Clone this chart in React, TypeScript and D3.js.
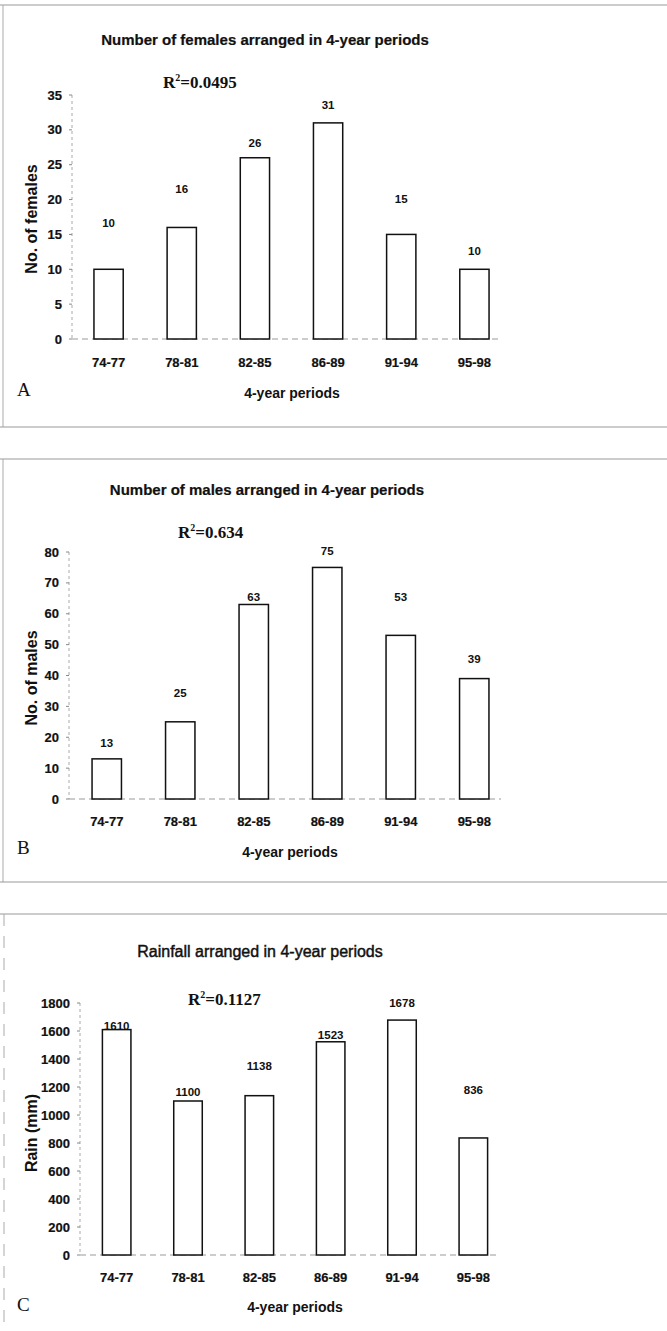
import React from 'react';
import * as d3 from 'd3';

const periods = ['74-77', '78-81', '82-85', '86-89', '91-94', '95-98'];
const females = [10, 16, 26, 31, 15, 10];
const males = [13, 25, 63, 75, 53, 39];
const rainfall = [1610, 1100, 1138, 1523, 1678, 836];
// where the value labels sit, in data units (placed by hand in the original)
const femaleLabelAt = [16, 21, 27.5, 33, 19.5, 12];
const maleLabelAt = [17, 33, 64, 79, 64, 44];
const rainLabelAt = [1610, 1135, 1320, 1545, 1770, 1150];

const SANS = '"Liberation Sans", Arial, sans-serif';
const SERIF = '"Liberation Serif", "Times New Roman", serif';

interface PanelProps {
    values: number[];
    labelAt: number[];
    title: string;
    titleBold: boolean;
    titleX: number;
    titleY: number;
    r2: string;
    r2X: number;
    r2Y: number;
    yTitle: string;
    yTitleY: number;
    yMax: number;
    yStep: number;
    axisX: number;
    yTop: number;
    yZero: number;
    xRange: [number, number];
    tickY: number;
    xTitleX: number;
    xTitleY: number;
    letter: string;
    letterY: number;
}

const Panel: React.FC<PanelProps> = p => {
    const x = d3.scaleBand<string>().domain(periods).range(p.xRange).paddingInner(0.6).paddingOuter(0.3);
    const y = d3.scaleLinear().domain([0, p.yMax]).range([p.yZero, p.yTop]);
    const ticks = d3.range(0, p.yMax + p.yStep / 2, p.yStep);

    return (
        <g>
            <text x={p.titleX} y={p.titleY} textAnchor="middle" fontFamily={SANS}
                fontSize={p.titleBold ? 15 : 16} fontWeight={p.titleBold ? 'bold' : 'normal'}
                stroke="#111" strokeWidth={p.titleBold ? 0.2 : 0.45} fill="#111">
                {p.title}
            </text>
            <text x={p.r2X} y={p.r2Y} fontFamily={SERIF} fontSize={17} fontWeight="bold" fill="#111">
                R<tspan fontSize={10} dy={-7}>2</tspan><tspan dy={7}>{p.r2}</tspan>
            </text>

            {/* y axis */}
            <line x1={p.axisX} x2={p.axisX} y1={p.yTop} y2={p.yZero} stroke="#aaa" strokeDasharray="3,3" />
            {ticks.map(t => (
                <g key={t}>
                    <line x1={p.axisX - 3} x2={p.axisX} y1={y(t)} y2={y(t)} stroke="#888" />
                    <text x={p.axisX - 10} y={y(t) + 4.5} textAnchor="end" fontFamily={SANS}
                        fontSize={13} fontWeight="bold" fill="#111" stroke="#111" strokeWidth={0.2}>{t}</text>
                </g>
            ))}
            <line x1={p.axisX} x2={p.xRange[1] - 10} y1={p.yZero} y2={p.yZero} stroke="#999" strokeDasharray="6,4" />

            {periods.map((d, i) => (
                <g key={d}>
                    <rect x={x(d)} y={y(p.values[i])} width={x.bandwidth()} height={p.yZero - y(p.values[i])}
                        fill="#fff" stroke="#111" strokeWidth={1.5} />
                    <text x={(x(d) ?? 0) + x.bandwidth() / 2} y={y(p.labelAt[i])} textAnchor="middle"
                        fontFamily={SANS} fontSize={11.5} fontWeight="bold" fill="#111">{p.values[i]}</text>
                    <text x={(x(d) ?? 0) + x.bandwidth() / 2} y={p.tickY} textAnchor="middle"
                        fontFamily={SANS} fontSize={13} fontWeight="bold" fill="#111" stroke="#111" strokeWidth={0.2}>{d}</text>
                </g>
            ))}

            <text transform={`translate(37,${p.yTitleY}) rotate(-90)`} textAnchor="middle"
                fontFamily={SANS} fontSize={16} fontWeight="bold" fill="#111">{p.yTitle}</text>
            <text x={p.xTitleX} y={p.xTitleY} textAnchor="middle" fontFamily={SANS}
                fontSize={14} fontWeight="bold" fill="#111">4-year periods</text>
            <text x={17} y={p.letterY} fontFamily={SERIF} fontSize={19} fill="#111">{p.letter}</text>
        </g>
    );
};

const App: React.FC = () => {
    return (
        <svg width={667} height={1331} style={{ position: 'absolute', left: 0, top: 0, background: '#fff' }}>
            {/* frames */}
            <line x1={0} x2={667} y1={5} y2={5} stroke="#999" />
            <line x1={3} x2={3} y1={5} y2={427} stroke="#aaa" />
            <line x1={0} x2={667} y1={427} y2={427} stroke="#999" />
            <line x1={0} x2={667} y1={459} y2={459} stroke="#999" />
            <line x1={3} x2={3} y1={459} y2={882} stroke="#aaa" />
            <line x1={0} x2={667} y1={882} y2={882} stroke="#999" />
            <line x1={0} x2={667} y1={914} y2={914} stroke="#999" />
            <line x1={4} x2={4} y1={914} y2={1331} stroke="#aaa" strokeDasharray="12,10" />

            <Panel values={females} labelAt={femaleLabelAt}
                title="Number of females arranged in 4-year periods" titleBold titleX={265} titleY={45}
                r2="=0.0495" r2X={163} r2Y={88} yTitle="No. of females" yTitleY={219}
                yMax={35} yStep={5} axisX={72} yTop={95} yZero={339} xRange={[72, 511]}
                tickY={367} xTitleX={292} xTitleY={398} letter="A" letterY={396} />

            <Panel values={males} labelAt={maleLabelAt}
                title="Number of males arranged in 4-year periods" titleBold titleX={267} titleY={495}
                r2="=0.634" r2X={178} r2Y={538} yTitle="No. of males" yTitleY={678}
                yMax={80} yStep={10} axisX={69} yTop={552} yZero={799} xRange={[70, 511]}
                tickY={826} xTitleX={290} xTitleY={857} letter="B" letterY={854} />

            <Panel values={rainfall} labelAt={rainLabelAt}
                title="Rainfall arranged in 4-year periods" titleBold={false} titleX={260} titleY={957}
                r2="=0.1127" r2X={188} r2Y={1005} yTitle="Rain (mm)" yTitleY={1133}
                yMax={1800} yStep={200} axisX={80} yTop={1003} yZero={1255} xRange={[81, 509]}
                tickY={1282} xTitleX={295} xTitleY={1312} letter="C" letterY={1311} />
        </svg>
    );
};

export default App;
